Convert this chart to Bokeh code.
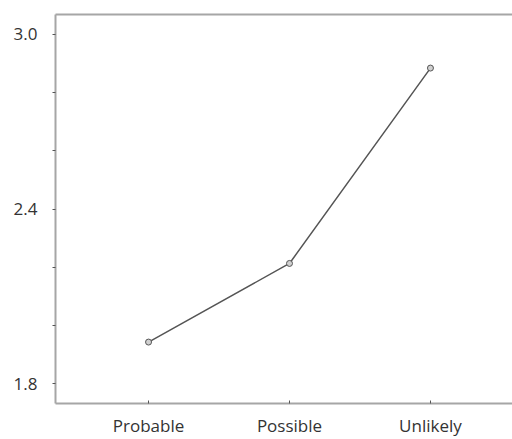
from bokeh.plotting import figure
from bokeh.models import LinearAxis, FixedTicker, Range1d, ColumnDataSource
from bokeh.embed import file_html
from bokeh.resources import INLINE

categories = ["Probable", "Possible", "Unlikely"]
values = [1.943, 2.213, 2.884]
y_major = [1.8, 2.4, 3.0]
y_labels = ["1.8", "2.4", "3.0"]
y_minor = [2.0, 2.2, 2.6, 2.8]

xs = list(range(len(categories)))
src = ColumnDataSource(dict(x=xs, y=values))

p = figure(width=512, height=439, output_backend="svg", toolbar_location=None,
           x_range=Range1d(-0.66, 2.582), y_range=Range1d(1.732, 3.068),
           x_axis_location=None, y_axis_location=None,
           min_border_left=55, min_border_right=0, min_border_top=14, min_border_bottom=34)
p.outline_line_color = None
p.grid.visible = False
p.background_fill_color = "white"
p.border_fill_color = "white"

axis_color = "#a6a6a6"
tick_color = "#555555"
label_color = "#333333"
font = "Open Sans"

yax = LinearAxis(ticker=FixedTicker(ticks=y_major, minor_ticks=y_minor))
yax.major_label_overrides = dict(zip(y_major, y_labels))
yax.axis_line_color = axis_color
yax.axis_line_width = 2
yax.major_tick_line_color = tick_color
yax.minor_tick_line_color = tick_color
yax.major_tick_out = 3
yax.major_tick_in = 0
yax.minor_tick_out = 3
yax.minor_tick_in = 0
yax.major_label_text_font = font
yax.major_label_text_font_size = "17px"
yax.major_label_text_color = label_color
yax.major_label_standoff = 15
p.add_layout(yax, "left")

xax = LinearAxis(ticker=FixedTicker(ticks=xs, minor_ticks=[]))
xax.major_label_overrides = {i: c for i, c in enumerate(categories)}
xax.axis_line_color = axis_color
xax.axis_line_width = 2
xax.major_tick_line_color = tick_color
xax.major_tick_out = 0
xax.major_tick_in = 3
xax.major_label_text_font = font
xax.major_label_text_font_size = "17px"
xax.major_label_text_color = label_color
xax.major_label_standoff = 10
p.add_layout(xax, "below")

tax = LinearAxis(ticker=FixedTicker(ticks=[]))
tax.axis_line_color = axis_color
tax.axis_line_width = 2
tax.major_label_text_font_size = "0px"
tax.major_tick_line_color = None
tax.minor_tick_line_color = None
p.add_layout(tax, "above")

p.line("x", "y", source=src, line_color=tick_color, line_width=1.5)
p.scatter("x", "y", source=src, size=6, fill_color="#d0d0d0", line_color=tick_color, line_width=1)

open("out.html", "w").write(file_html(p, INLINE))
